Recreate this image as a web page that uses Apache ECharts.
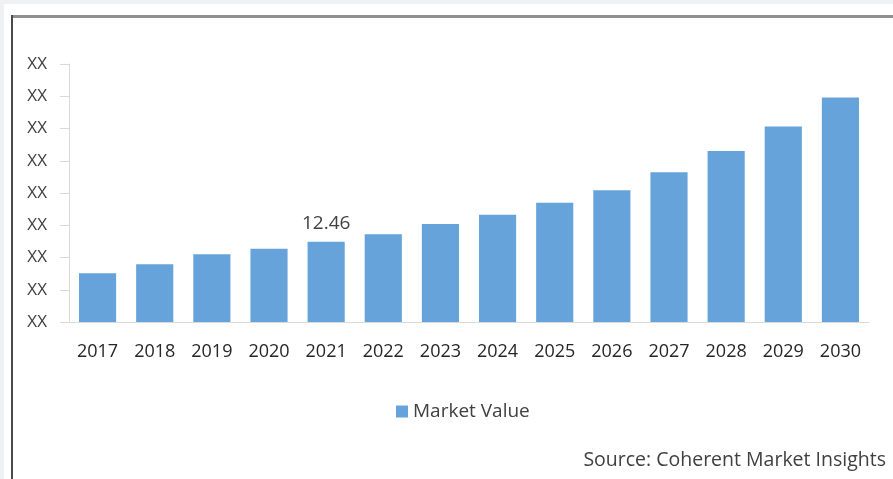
<!DOCTYPE html>
<html>
<head>
<meta charset="utf-8">
<script src="https://cdn.jsdelivr.net/npm/echarts@6/dist/echarts.min.js"></script>
<style>
html,body{margin:0;padding:0;background:#f0f1f3;}
#c{width:893px;height:479px;}
</style>
</head>
<body>
<div id="c"></div>
<script>
var categories = ['2017','2018','2019','2020','2021','2022','2023','2024','2025','2026','2027','2028','2029','2030'];
var marketValue = [7.55, 8.95, 10.5, 11.37, 12.46, 13.6, 15.19, 16.64, 18.5, 20.42, 23.2, 26.5, 30.3, 34.8];
var labelledIndex = 4; // 2021 shows its value
var yTickLabel = 'XX';
var seriesName = 'Market Value';
var sourceText = 'Source: Coherent Market Insights';

var font = '"Open Sans", "Noto Sans", sans-serif';
var chart = echarts.init(document.getElementById('c'));
var data = marketValue.map(function (v, i) {
  if (i === labelledIndex) {
    return { value: v, label: { show: true, position: 'top', distance: 9, color: '#404040', fontSize: 19, fontFamily: font } };
  }
  return v;
});
chart.setOption({
  backgroundColor: '#f0f1f3',
  animation: false,
  graphic: [
    { type: 'rect', z: -10, shape: { x: 4, y: 4, width: 889, height: 475 }, style: { fill: '#ffffff' } },
    { type: 'rect', z: -9, shape: { x: 11, y: 15, width: 900, height: 3 }, style: { fill: '#8f8f8f' } },
    { type: 'rect', z: -9, shape: { x: 11, y: 15, width: 2, height: 470 }, style: { fill: '#4a4a4a' } },
    { type: 'text', right: 7, top: 450, style: { text: sourceText, fill: '#404040', fontSize: 19.5, fontFamily: font } }
  ],
  grid: { left: 69, right: 24, top: 64, bottom: 157 },
  legend: {
    left: 391, top: 397,
    icon: 'rect', itemWidth: 12, itemHeight: 12, itemGap: 9,
    textStyle: { color: '#404040', fontSize: 19, fontFamily: font },
    data: [seriesName]
  },
  xAxis: {
    type: 'category',
    data: categories,
    axisLine: { lineStyle: { color: '#d9d9d9', width: 1 } },
    axisTick: { show: false },
    axisLabel: { color: '#262626', fontSize: 18, fontFamily: font, margin: 21 }
  },
  yAxis: {
    type: 'value',
    min: 0, max: 40, interval: 5,
    axisLine: { show: true, lineStyle: { color: '#d9d9d9', width: 1 } },
    axisTick: { show: true, length: 9, lineStyle: { color: '#d9d9d9' } },
    splitLine: { show: false },
    axisLabel: { color: '#404040', fontSize: 17, fontFamily: font, margin: 22, formatter: function () { return yTickLabel; } }
  },
  series: [{
    name: seriesName,
    type: 'bar',
    data: data,
    barCategoryGap: '35%',
    itemStyle: { color: '#65a3da' }
  }]
});
</script>
</body>
</html>
